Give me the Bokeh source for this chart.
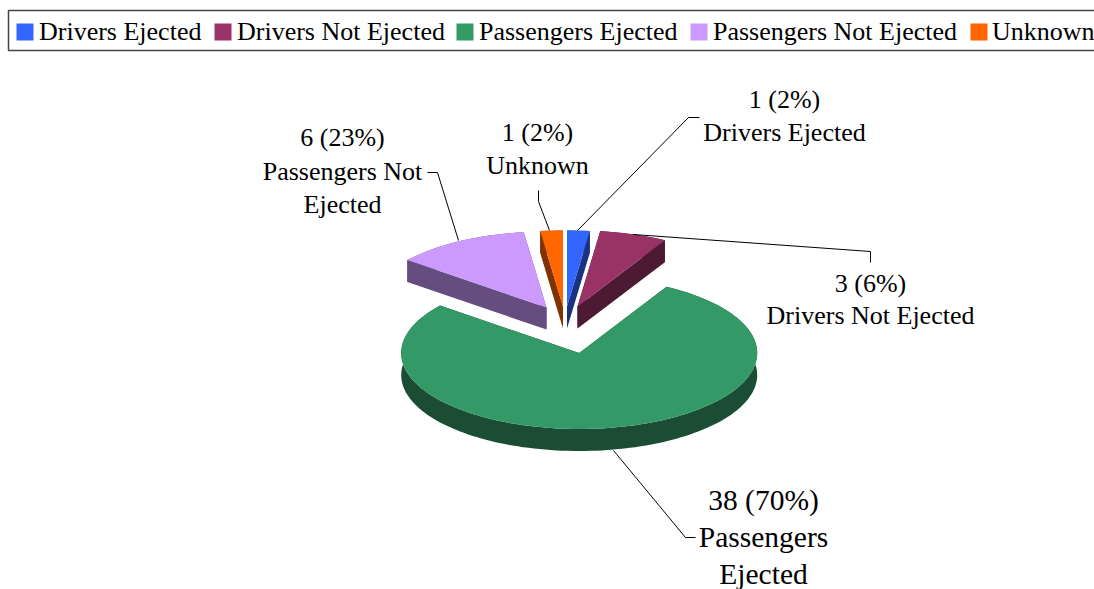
import math
from bokeh.plotting import figure
from bokeh.models import Range1d, Label
from bokeh.embed import file_html
from bokeh.resources import INLINE

categories = ["Drivers Ejected", "Drivers Not Ejected", "Passengers Ejected", "Passengers Not Ejected", "Unknown"]
values = [1, 3, 38, 6, 1]
value_labels = ["1 (2%)", "3 (6%)", "38 (70%)", "6 (23%)", "1 (2%)"]
top_colors = ["#3366ff", "#993366", "#339966", "#cc99ff", "#ff6600"]
side_colors = ["#1a3380", "#4d1a33", "#1a4d33", "#664d80", "#803300"]

# layout (page pixels)
apex = [(566.5, 306), (577, 306), (578.7, 352.5), (546, 307), (562.5, 306)]
RX, RY, DEPTH = 178, 76, 22
SERIF = "Liberation Serif"

p = figure(width=1094, height=589, output_backend="svg", toolbar_location=None,
           x_range=Range1d(0, 1094), y_range=Range1d(589, 0), min_border=0)
p.axis.visible = False
p.grid.visible = False
p.outline_line_color = None

total = sum(values)
cum = 0
tops = []
for v, (cx, cy) in zip(values, apex):
    a0, a1 = cum / total * 2 * math.pi, (cum + v) / total * 2 * math.pi
    cum += v
    n = max(2, int(v * 4))
    arc = []
    for i in range(n + 1):
        a = a0 + (a1 - a0) * i / n
        arc.append((cx + RX * math.sin(a), cy - RY * math.cos(a)))
    tops.append(((cx, cy), arc))

for (ap, arc), side in zip(tops, side_colors):
    # radial walls
    for e in (arc[0], arc[-1]):
        p.patch([ap[0], e[0], e[0], ap[0]], [ap[1], e[1], e[1] + DEPTH, ap[1] + DEPTH],
                fill_color=side, line_color=None)
    # outer wall
    xs = [q[0] for q in arc] + [q[0] for q in reversed(arc)]
    ys = [q[1] for q in arc] + [q[1] + DEPTH for q in reversed(arc)]
    p.patch(xs, ys, fill_color=side, line_color=None)
for (ap, arc), c in zip(tops, top_colors):
    p.patch([ap[0]] + [q[0] for q in arc], [ap[1]] + [q[1] for q in arc],
            fill_color=c, line_color=None)

# leader lines
leaders = [
    ([577, 688, 699], [230, 117, 117]),
    ([633, 870, 870], [234, 251, 262]),
    ([613, 685, 695], [450, 537, 537]),
    ([458, 437, 427], [240, 172, 172]),
    ([549, 538, 538], [230, 201, 190]),
]
for xs, ys in leaders:
    p.line(xs, ys, line_color="black", line_width=1)

def label(x, y, text, size=26, align="center"):
    p.add_layout(Label(x=x, y=y, text=text, text_font=SERIF, text_font_size=f"{size}px",
                       text_color="black", text_align=align, text_baseline="middle"))

# data labels
label(784, 99, value_labels[0]); label(784, 132, categories[0])
label(870, 283, value_labels[1]); label(870, 315, categories[1])
label(763, 499, value_labels[2], 29.5); label(763, 536, "Passengers", 29.5); label(763, 573, "Ejected", 29.5)
label(342, 137, value_labels[3]); label(342, 171, "Passengers Not"); label(342, 204, "Ejected")
label(537, 132, value_labels[4]); label(537, 165, categories[4])

# legend
p.line([1094, 8, 8, 1094], [10, 10, 50, 50], line_color="#444444", line_width=1.5)
swatch_x = [16, 214, 456, 690, 970]
text_x = [38.5, 236.5, 478.5, 712.5, 991.5]
for sx, tx, c, name in zip(swatch_x, text_x, top_colors, categories):
    p.quad(left=sx, right=sx + 17, top=23, bottom=40, fill_color=c, line_color=None)
    label(tx, 30.5, name, 26, "left")

open("out.html", "w").write(file_html(p, INLINE))
